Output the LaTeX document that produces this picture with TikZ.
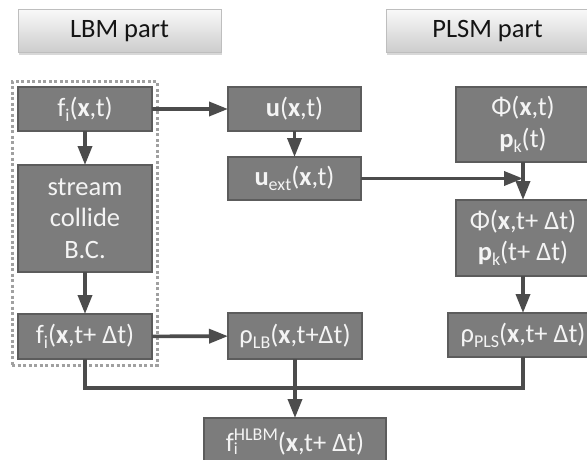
\documentclass[tikz,border=0pt]{standalone}
\usepackage{fontspec}
\setmainfont{Carlito}
\usetikzlibrary{arrows.meta,shadows}
\definecolor{boxfill}{HTML}{7C7C7C}
\definecolor{boxdraw}{HTML}{5C5C5C}
\definecolor{boxtext}{HTML}{F4F4F4}
\definecolor{linecol}{HTML}{4C4C4C}
\definecolor{dotcol}{HTML}{A0A0A0}
\definecolor{headtop}{HTML}{F8F8F8}
\definecolor{headbot}{HTML}{CCCCCC}
\definecolor{headdraw}{HTML}{BEBEBE}
\definecolor{headtext}{HTML}{141414}
\newcommand\lowsub[1]{\raisebox{-5pt}{\fontsize{18}{18}\selectfont #1}}
\newcommand\highsup[1]{\raisebox{11pt}{\fontsize{18}{18}\selectfont #1}}
\tikzset{
  box/.style={draw=boxdraw, line width=2pt, fill=boxfill, text=boxtext,
    inner sep=0pt, outer sep=0pt, align=center,
    font=\fontsize{26.5}{31.5}\selectfont},
  header/.style={draw=headdraw, line width=1pt, top color=headtop, bottom color=headbot,
    text=headtext, inner sep=0pt, outer sep=0pt,
    font=\fontsize{26.5}{30}\selectfont,
    drop shadow={opacity=0.3, shadow xshift=1pt, shadow yshift=-2.5pt}},
  group/.style={draw=dotcol, line width=3pt, dash pattern=on 3pt off 2.5pt,
    inner sep=0pt, outer sep=0pt},
  conn/.style={draw=linecol, line width=3.6pt},
  arr/.style={conn, -{Triangle[length=19pt,width=14pt]}}
}
\begin{document}
\begin{tikzpicture}[x=1pt,y=-1pt]
\useasboundingbox (0,0) rectangle (587,460);
\clip (0,0) rectangle (587,460);
\fill[white] (0,0) rectangle (587,460);
% headers
\node[header, minimum width=203pt, minimum height=43pt] (hl) at (119.5,31.5) {LBM part};
\node[header, minimum width=203pt, minimum height=43pt] (hp) at (487.5,31.5) {PLSM part};
% dotted group
\node[group, minimum width=145pt, minimum height=283pt] (grp) at (84.5,223.5) {};
% boxes
\node[box, minimum width=134pt, minimum height=44pt] (fi) at (85,109) {f\lowsub{i}(\textbf{x},t)};
\node[box, minimum width=134pt, minimum height=107pt] (sc) at (85,218.5) {stream\\collide\\B.C.};
\node[box, minimum width=134pt, minimum height=45pt] (fi2) at (85,336.5) {f\lowsub{i}(\textbf{x},t+ Δt)};
\node[box, minimum width=133pt, minimum height=44pt] (u) at (294.5,109) {\textbf{u}(\textbf{x},t)};
\node[box, minimum width=133pt, minimum height=43pt] (uext) at (294.5,178.5) {\textbf{u}\lowsub{ext}(\textbf{x},t)};
\node[box, minimum width=134pt, minimum height=46pt] (rlb) at (295,336) {ρ\lowsub{LB}(\textbf{x},t+Δt)};
\node[box, minimum width=134pt, minimum height=75pt] (phi) at (523,124.5) {Φ(\textbf{x},t)\\\textbf{p}\lowsub{k}(t)};
\node[box, minimum width=134pt, minimum height=76pt] (phi2) at (523,238) {Φ(\textbf{x},t+ Δt)\\\textbf{p}\lowsub{k}(t+ Δt)};
\node[box, minimum width=150pt, minimum height=44pt] (pls) at (523,335) {ρ\lowsub{PLS}(\textbf{x},t+ Δt)};
\node[box, minimum width=182pt, minimum height=48pt] (hlbm) at (295,442) {f\rlap{\raisebox{-3pt}{\fontsize{17}{17}\selectfont i}}\highsup{HLBM}(\textbf{x},t+ Δt)};
% connectors
\draw[arr] (fi) -- (u);
\draw[arr] (fi) -- (sc);
\draw[arr] (sc) -- (fi2);
\draw[arr] (fi2) -- (rlb);
\draw[arr] (u) -- (uext);
\coordinate (m) at (uext.east -| phi.south);
\draw[arr] (uext.east) -- (m);
\draw[arr] (phi) -- (phi2);
\draw[arr] (phi2) -- (pls);
\coordinate (j) at (295,388);
\draw[conn] (fi2.south) |- (j) -| (pls.south);
\draw[arr] (rlb) -- (hlbm);
\end{tikzpicture}
\end{document}
